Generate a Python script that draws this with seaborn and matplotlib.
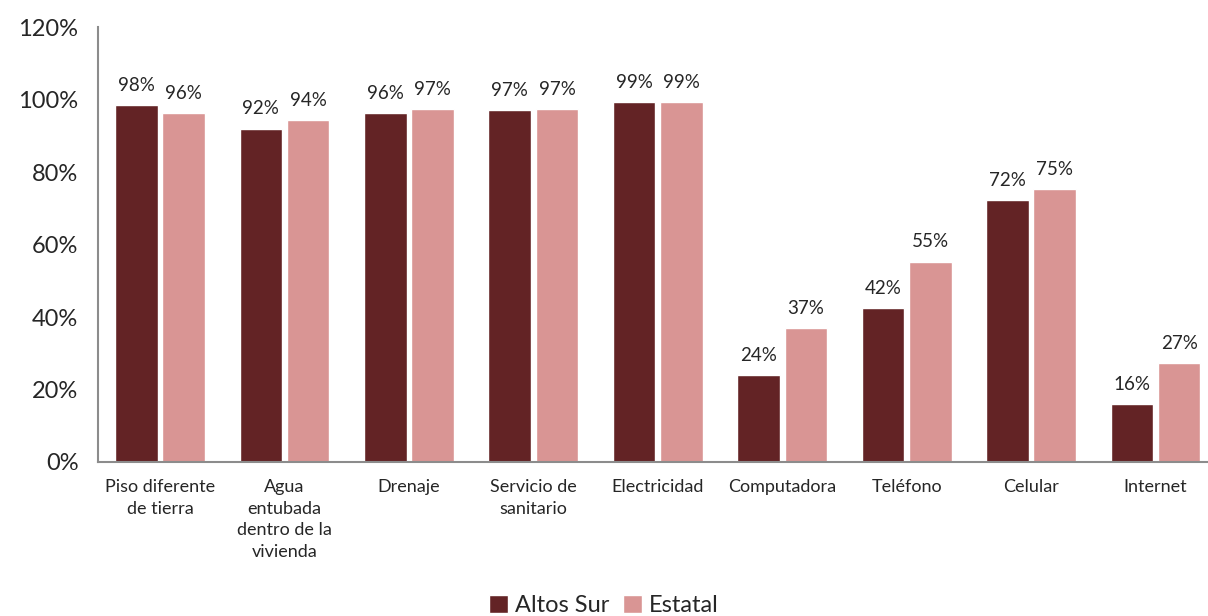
import pandas as pd
import matplotlib.pyplot as plt
import seaborn as sns

# data
categorias = ['Piso diferente\nde tierra', 'Agua\nentubada\ndentro de la\nvivienda', 'Drenaje',
              'Servicio de\nsanitario', 'Electricidad', 'Computadora', 'Teléfono', 'Celular', 'Internet']
altos_sur = [98.4, 92.0, 96.4, 97.2, 99.2, 24.0, 42.4, 72.4, 16.0]
estatal = [96.4, 94.4, 97.4, 97.3, 99.2, 37.0, 55.3, 75.4, 27.2]
series = ['Altos Sur', 'Estatal']
colores = ['#632325', '#D99594']

df = pd.DataFrame({
    'cat': categorias * 2,
    'valor': altos_sur + estatal,
    'serie': [series[0]] * len(categorias) + [series[1]] * len(categorias),
})

sns.set_style('white')
plt.rcParams['font.family'] = ['Lato', 'DejaVu Sans']

fig = plt.figure(figsize=(12.08, 6.16), dpi=100)
ax = fig.add_axes([0.081, 0.25, 0.927, 0.706])

sns.barplot(data=df, x='cat', y='valor', hue='serie', palette=colores, saturation=1,
            width=0.76, gap=0.1, edgecolor='white', linewidth=1, ax=ax)

for cont in ax.containers:
    ax.bar_label(cont, labels=[f'{v:.0f}%' for v in cont.datavalues], padding=8, fontsize=13.5)

ax.set_ylim(0, 120)
ax.set_yticks(range(0, 121, 20))
ax.set_yticklabels([f'{t}%' for t in range(0, 121, 20)], fontsize=17)
ax.tick_params(axis='x', labelsize=13, length=0, pad=12)
ax.tick_params(axis='y', length=0, pad=14)
for lbl in ax.get_xticklabels():
    lbl.set_linespacing(1.45)
ax.set_xlim(-0.5, len(categorias) - 0.5)
ax.set_xlabel('')
ax.set_ylabel('')

sns.despine(ax=ax, top=True, right=True)
for s in ['left', 'bottom']:
    ax.spines[s].set_color('#8c8c8c')
    ax.spines[s].set_linewidth(1.5)

ax.legend(loc='lower center', bbox_to_anchor=(0.5, -0.035), bbox_transform=fig.transFigure,
          ncol=2, frameon=False, fontsize=17, handlelength=0.8, handleheight=0.8,
          handletextpad=0.3, columnspacing=0.6)

plt.savefig('out.png', dpi=100)
